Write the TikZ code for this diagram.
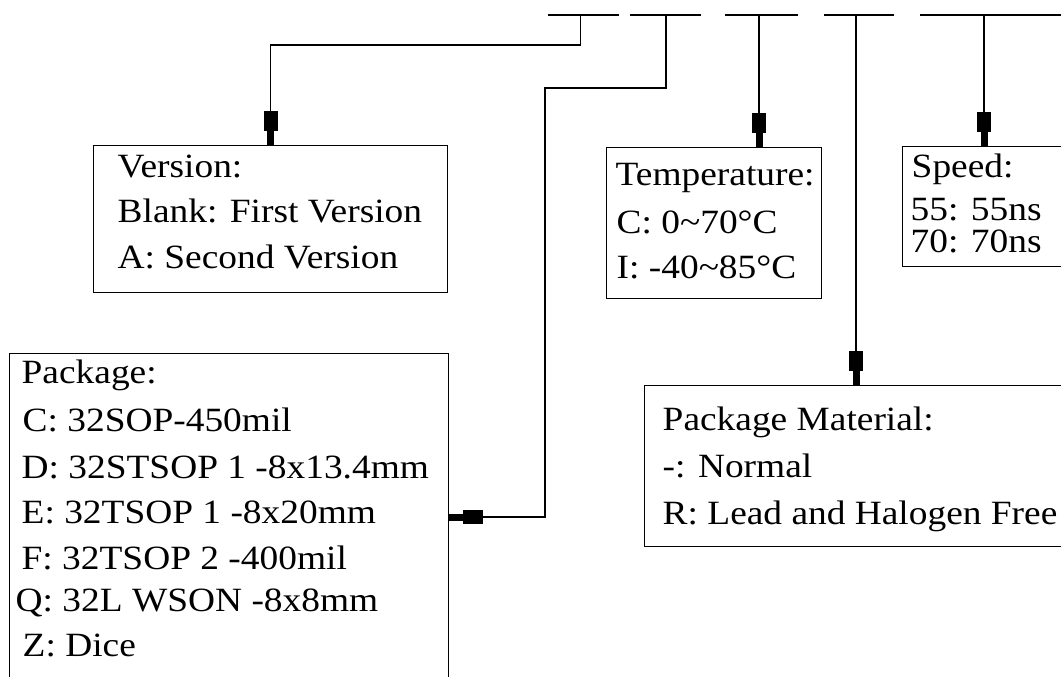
\documentclass[tikz,border=0pt]{standalone}
\usepackage{fontspec}
\setmainfont{Liberation Serif}
\usepackage{graphicx}
\usetikzlibrary{arrows.meta}
\newcommand{\wtxt}[1]{\scalebox{1.1}[1]{#1}}
\begin{document}
\begin{tikzpicture}[x=1pt,y=-1pt,
  line width=1.4pt,
  box/.style={draw, line width=1.4pt, rectangle, anchor=north west, inner sep=0pt},
  txt/.style={anchor=base west, inner sep=0pt, font=\fontsize{34pt}{40pt}\selectfont},
  arr/.style={-{Rectangle[length=20pt,width=14pt,sep=0pt]Rectangle[length=14pt,width=7pt,sep=0pt]}},
  bar/.style={line width=1.4pt}]
\useasboundingbox (0,0) rectangle (1061,677);
\clip (0,0) rectangle (1061,677);
% top bars
\draw[bar] (548,15) -- (619,15);
\draw[bar] (630,15) -- (701,15);
\draw[bar] (725,15) -- (798,15);
\draw[bar] (824,15) -- (894,15);
\draw[bar] (920,15) -- (1070,15);
\coordinate (s1) at (580.5,15);
\coordinate (s2) at (666,15);
\coordinate (s3) at (759,15);
\coordinate (s4) at (856,15);
\coordinate (s5) at (984,15);
% boxes
\node[box, minimum width=354pt, minimum height=147pt] (ver) at (93,145) {};
\node[box, minimum width=215pt, minimum height=151pt] (temp) at (606,147) {};
\node[box, minimum width=180pt, minimum height=120pt] (speed) at (902,146) {};
\node[box, minimum width=439pt, minimum height=360pt] (pkg) at (9,353) {};
\node[box, minimum width=440pt, minimum height=161pt] (mat) at (644,385) {};
% texts
\node[txt] (v1) at (117,177) {\wtxt{Version:}};
\node[txt] (v2) at (117,222) {\wtxt{Blank: First Version}};
\node[txt] (v3) at (117,268) {\wtxt{A: Second Version}};
\node[txt] (t1) at (615,185) {\wtxt{Temperature:}};
\node[txt] (t2) at (616,233) {\wtxt{C: 0\textasciitilde 70°C}};
\node[txt] (t3) at (616,278) {\wtxt{I: -40\textasciitilde 85°C}};
\node[txt] (sp1) at (911,177) {\wtxt{Speed:}};
\node[txt] (sp2) at (910,220) {\wtxt{55: 55ns}};
\node[txt] (sp3) at (910,252) {\wtxt{70: 70ns}};
\node[txt] (k1) at (21,383) {\wtxt{Package:}};
\node[txt] (k2) at (22,431) {\wtxt{C: 32SOP-450mil}};
\node[txt] (k3) at (21,478) {\wtxt{D: 32STSOP 1 -8x13.4mm}};
\node[txt] (k4) at (21,523) {\wtxt{E: 32TSOP 1 -8x20mm}};
\node[txt] (k5) at (21,569) {\wtxt{F: 32TSOP 2 -400mil}};
\node[txt] (k6) at (15,611) {\wtxt{Q: 32L WSON -8x8mm}};
\node[txt] (k7) at (22,656) {\wtxt{Z: Dice}};
\node[txt] (m1) at (662,430) {\wtxt{Package Material:}};
\node[txt] (m2) at (662,477) {\wtxt{-: Normal}};
\node[txt] (m3) at (662,524) {\wtxt{R: Lead and Halogen Free}};
% connectors
\coordinate (c1) at (580.5,45);
\draw[arr] (s1) -- (c1) -| (ver.north);
\coordinate (c2) at (666,88);
\coordinate (c3) at (545,88);
\coordinate (c4) at (545,517);
\draw[arr] (s2) -- (c2) -- (c3) -- (c4) -- (c4 -| pkg.east);
\draw[arr] (s3) -- (s3 |- temp.north);
\draw[arr] (s4) -- (s4 |- mat.north);
\draw[arr] (s5) -- (s5 |- speed.north);
\end{tikzpicture}
\end{document}
